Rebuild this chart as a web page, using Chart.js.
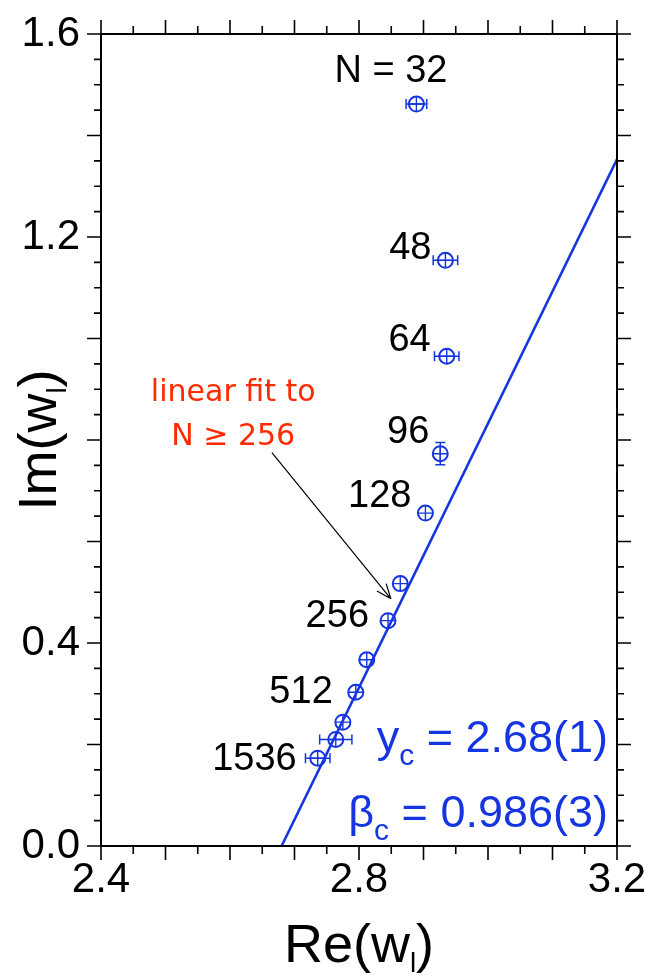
<!DOCTYPE html>
<html>
<head>
<meta charset="utf-8">
<script src="https://cdn.jsdelivr.net/npm/chart.js"></script>
<style>
  html, body { margin: 0; padding: 0; background: #fff; }
</style>
</head>
<body>
<canvas id="plot" width="651" height="980"></canvas>
<script>
// lattice sizes and the complex zero estimates w_l for each
const sizes  = [32, 48, 64, 96, 128, 192, 256, 384, 512, 768, 1024, 1536];
const reW    = [2.889, 2.934, 2.936, 2.926, 2.903, 2.864, 2.845, 2.812, 2.795, 2.775, 2.764, 2.736];
const imW    = [1.462, 1.154, 0.965, 0.773, 0.656, 0.517, 0.444, 0.367, 0.303, 0.244, 0.210, 0.173];
const reErr  = [0.016, 0.019, 0.019, 0.006, 0.005, 0.004, 0.004, 0.004, 0.005, 0.005, 0.025, 0.019];
const imErr  = [0.004, 0.004, 0.004, 0.022, 0.005, 0.005, 0.005, 0.005, 0.005, 0.005, 0.005, 0.005];
const pointText = ['N = 32', '48', '64', '96', '128', '', '256', '', '512', '', '', '1536'];

// linear fit to N >= 256, end points
const fitRe = [2.68, 3.2];
const fitIm = [0, 1.353];

// axis ranges; 0.8 is left unlabelled, the axis title sits there
const xMin = 2.4, xMax = 3.2, xStep = 0.4, xMinor = 0.05;
const yMin = 0.0, yMax = 1.6, yStep = 0.4, yMinor = 0.05;
const yHidden = [0.8];

// where each size label sits relative to its marker (right edge, baseline), px
const labelShift = [[31, -22], [-14, -1], [-16, -5], [-11, -11], [-14, -6], null,
                    [-19, 6], null, [-23, 11], null, null, [-21, 12]];

const blue = '#1535e0';
const font = '"Liberation Sans", Arial, Helvetica, sans-serif';

function drawParts(ctx, parts, x, y, align) {
  let w = 0;
  parts.forEach(p => { ctx.font = p.size + 'px ' + (p.family || font); w += ctx.measureText(p.t).width; });
  let cx = align === 'center' ? x - w / 2 : align === 'right' ? x - w : x;
  ctx.textAlign = 'left';
  ctx.textBaseline = 'alphabetic';
  parts.forEach(p => {
    ctx.font = p.size + 'px ' + (p.family || font);
    ctx.fillText(p.t, cx, y + (p.dy || 0));
    cx += ctx.measureText(p.t).width;
  });
}

const decorations = {
  id: 'decorations',
  afterDraw(chart) {
    const { ctx, chartArea: a, scales: { x, y } } = chart;
    ctx.save();

    // error bars
    ctx.strokeStyle = blue;
    ctx.lineWidth = 1.5;
    const r = 7.5, cap = 5;
    reW.forEach((v, i) => {
      const px = x.getPixelForValue(v), py = y.getPixelForValue(imW[i]);
      const x0 = x.getPixelForValue(v - reErr[i]), x1 = x.getPixelForValue(v + reErr[i]);
      const y0 = y.getPixelForValue(imW[i] - imErr[i]), y1 = y.getPixelForValue(imW[i] + imErr[i]);
      ctx.beginPath();
      if (px - x0 > r) {
        ctx.moveTo(x0, py); ctx.lineTo(x1, py);
        ctx.moveTo(x0, py - cap); ctx.lineTo(x0, py + cap);
        ctx.moveTo(x1, py - cap); ctx.lineTo(x1, py + cap);
      }
      if (y0 - py > r) {
        ctx.moveTo(px, y0); ctx.lineTo(px, y1);
        ctx.moveTo(px - cap, y0); ctx.lineTo(px + cap, y0);
        ctx.moveTo(px - cap, y1); ctx.lineTo(px + cap, y1);
      }
      ctx.stroke();
    });

    // frame and tick marks on all four sides
    ctx.strokeStyle = '#000';
    ctx.lineWidth = 2;
    ctx.strokeRect(a.left, a.top, a.right - a.left, a.bottom - a.top);
    ctx.lineWidth = 1.6;
    ctx.beginPath();
    const nx = Math.round((xMax - xMin) / xMinor);
    for (let i = 0; i <= nx; i++) {
      const px = x.getPixelForValue(xMin + i * xMinor);
      const len = i % 2 === 0 ? 14 : 8;
      ctx.moveTo(px, a.bottom); ctx.lineTo(px, a.bottom + len);
      ctx.moveTo(px, a.top); ctx.lineTo(px, a.top - len);
    }
    const ny = Math.round((yMax - yMin) / yMinor);
    for (let i = 0; i <= ny; i++) {
      const py = y.getPixelForValue(yMin + i * yMinor);
      const len = i % 4 === 0 ? 14 : 7;
      ctx.moveTo(a.left - len, py); ctx.lineTo(a.left, py);
      ctx.moveTo(a.right, py); ctx.lineTo(a.right + len, py);
    }
    ctx.stroke();

    // size labels next to markers
    ctx.fillStyle = '#000';
    pointText.forEach((t, i) => {
      if (!t) return;
      const px = x.getPixelForValue(reW[i]), py = y.getPixelForValue(imW[i]);
      drawParts(ctx, [{ t, size: 38 }], px + labelShift[i][0], py + labelShift[i][1], 'right');
    });

    // fit annotation with arrow
    ctx.fillStyle = '#ff2a00';
    const tx = x.getPixelForValue(2.605);
    drawParts(ctx, [{ t: 'linear fit to', size: 30, family: '"DejaVu Sans", sans-serif' }], tx, y.getPixelForValue(0.876), 'center');
    drawParts(ctx, [{ t: 'N \u2265 256', size: 30, family: '"DejaVu Sans", sans-serif' }], tx, y.getPixelForValue(0.791), 'center');
    const ax0 = x.getPixelForValue(2.665), ay0 = y.getPixelForValue(0.775);
    const ax1 = x.getPixelForValue(2.8495), ay1 = y.getPixelForValue(0.487);
    const ang = Math.atan2(ay1 - ay0, ax1 - ax0);
    ctx.strokeStyle = '#000';
    ctx.lineWidth = 1.2;
    ctx.beginPath();
    ctx.moveTo(ax0, ay0); ctx.lineTo(ax1, ay1);
    [0.38, -0.38].forEach(d => {
      ctx.moveTo(ax1, ay1);
      ctx.lineTo(ax1 - 16 * Math.cos(ang + d), ay1 - 16 * Math.sin(ang + d));
    });
    ctx.stroke();

    // fit results
    ctx.fillStyle = blue;
    const rx = a.right - 9;
    drawParts(ctx, [{ t: 'y', size: 45 }, { t: 'c', size: 30, dy: 13 }, { t: ' = 2.68(1)', size: 45 }], rx, a.bottom - 94, 'right');
    drawParts(ctx, [{ t: '\u03b2', size: 45 }, { t: 'c', size: 30, dy: 13 }, { t: ' = 0.986(3)', size: 45 }], rx, a.bottom - 19, 'right');

    // axis titles
    ctx.fillStyle = '#000';
    const title = s => [{ t: s + '(w', size: 54 }, { t: 'l', size: 28, dy: 10 }, { t: ')', size: 54 }];
    drawParts(ctx, title('Re'), (a.left + a.right) / 2, 962, 'center');
    ctx.translate(56, (a.top + a.bottom) / 2);
    ctx.rotate(-Math.PI / 2);
    drawParts(ctx, title('Im'), 0, 0, 'center');

    ctx.restore();
  }
};

const pts = reW.map((v, i) => ({ x: v, y: imW[i] }));

// keep tick labels from pushing the plot box inwards
const noEdgePadding = s => { s.paddingTop = 0; s.paddingBottom = 0; s.paddingLeft = 0; s.paddingRight = 0; };

new Chart(document.getElementById('plot'), {
  type: 'scatter',
  data: {
    datasets: [
      {
        data: fitRe.map((v, i) => ({ x: v, y: fitIm[i] })),
        showLine: true, borderColor: blue, borderWidth: 2.6, pointRadius: 0
      },
      {
        data: pts, pointStyle: 'circle', pointRadius: 7.5,
        borderColor: blue, backgroundColor: 'rgba(0,0,0,0)', borderWidth: 2
      },
      {
        data: pts, pointStyle: 'cross', pointRadius: 7.5,
        borderColor: blue, borderWidth: 1.4
      }
    ]
  },
  options: {
    responsive: false,
    animation: false,
    devicePixelRatio: 1,
    layout: { padding: { top: 34, right: 34, left: 0, bottom: 0 } },
    plugins: { legend: { display: false }, tooltip: { enabled: false } },
    scales: {
      x: {
        type: 'linear', min: xMin, max: xMax,
        grid: { display: false, drawTicks: false },
        border: { display: false },
        ticks: {
          stepSize: xStep, padding: 9, maxRotation: 0, color: '#000',
          font: { family: font, size: 42 },
          callback: v => v.toFixed(1)
        },
        afterFit: s => { s.height = 134; noEdgePadding(s); }
      },
      y: {
        type: 'linear', min: yMin, max: yMax,
        grid: { display: false, drawTicks: false },
        border: { display: false },
        ticks: {
          stepSize: yStep, padding: 21, color: '#000',
          font: { family: font, size: 42 },
          callback: v => yHidden.some(h => Math.abs(h - v) < 1e-9) ? '' : v.toFixed(1)
        },
        afterFit: s => { s.width = 101; noEdgePadding(s); }
      }
    }
  },
  plugins: [decorations]
});
</script>
</body>
</html>
